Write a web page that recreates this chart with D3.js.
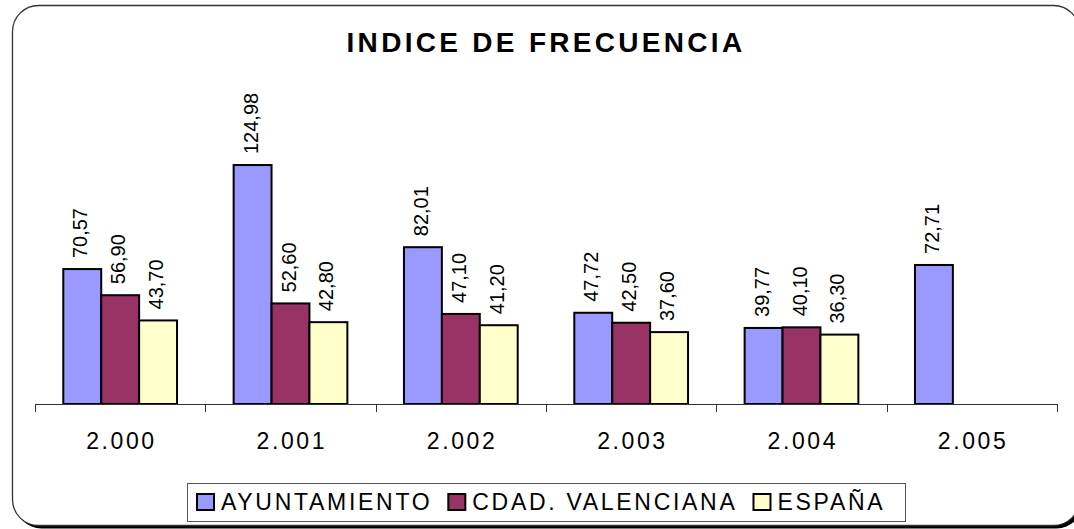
<!DOCTYPE html>
<html>
<head>
<meta charset="utf-8">
<script src="https://cdn.jsdelivr.net/npm/d3@7"></script>
<style>
  html, body { margin: 0; padding: 0; background: #fff; }
  svg { display: block; font-family: "Liberation Sans", Arial, sans-serif; }
</style>
</head>
<body>
<svg id="chart" width="1074" height="529"></svg>
<script>
// Data
var years = ["2.000", "2.001", "2.002", "2.003", "2.004", "2.005"];
var seriesNames = ["AYUNTAMIENTO", "CDAD. VALENCIANA", "ESPAÑA"];
var ayuntamiento = [70.57, 124.98, 82.01, 47.72, 39.77, 72.71];
var cdadValenciana = [56.90, 52.60, 47.10, 42.50, 40.10, null];
var espana = [43.70, 42.80, 41.20, 37.60, 36.30, null];
var seriesColors = ["#9999ff", "#993366", "#ffffcc"];

var svg = d3.select("#chart");
var width = +svg.attr("width"),
    height = +svg.attr("height");

// Spanish number format: comma as decimal mark
var esLocale = d3.formatLocale({ decimal: ",", thousands: ".", grouping: [3], currency: ["", " €"] });
var numFormat = esLocale.format(".2f");

// ---- chart frame (rounded, with a dark shadow) ----
svg.append("rect")
    .attr("x", 15.5).attr("y", 8.5)
    .attr("width", 1067).attr("height", 520)
    .attr("rx", 26).attr("ry", 26)
    .attr("fill", "#000");
svg.append("rect")
    .attr("x", 12.5).attr("y", 5.5)
    .attr("width", 1067).attr("height", 520)
    .attr("rx", 26).attr("ry", 26)
    .attr("fill", "#fff")
    .attr("stroke", "#333")
    .attr("stroke-width", 1.3);

// Title
svg.append("text")
    .attr("x", 546)
    .attr("y", 52)
    .attr("text-anchor", "middle")
    .style("font-size", "28px")
    .style("font-weight", "bold")
    .style("letter-spacing", "3.3px")
    .text("INDICE DE FRECUENCIA");

// ---- scales ----
var baseline = 404;
var x0 = d3.scaleBand().domain(years).range([35, 1057]).padding(0);
var x1 = d3.scaleBand().domain(seriesNames).range([28.3, x0.bandwidth() - 28.3]).padding(0);
var y = d3.scaleLinear().domain([0, 140]).range([baseline, baseline - 140 * 1.912]);

// Build a row per year from the series arrays
var table = years.map(function(yr, i) {
    return {
        year: yr,
        values: [ayuntamiento[i], cdadValenciana[i], espana[i]].map(function(v, j) {
            return { name: seriesNames[j], value: v, color: seriesColors[j] };
        }).filter(function(d) { return d.value != null; })
    };
});

var groups = svg.append("g")
    .selectAll("g")
    .data(table)
    .enter()
    .append("g")
    .attr("transform", function(d) { return "translate(" + x0(d.year) + ",0)"; });

groups.selectAll("rect")
    .data(function(d) { return d.values; })
    .enter()
    .append("rect")
    .attr("x", function(d) { return x1(d.name); })
    .attr("y", function(d) { return y(d.value); })
    .attr("width", x1.bandwidth())
    .attr("height", function(d) { return baseline - y(d.value); })
    .attr("fill", function(d) { return d.color; })
    .attr("stroke", "#000")
    .attr("stroke-width", 2);

// Value labels, rotated
groups.selectAll("text")
    .data(function(d) { return d.values; })
    .enter()
    .append("text")
    .attr("transform", function(d) {
        var cx = x1(d.name) + x1.bandwidth() / 2;
        return "translate(" + cx + "," + (y(d.value) - 11) + ") rotate(-90)";
    })
    .attr("dy", "0.25em")
    .style("font-size", "20px")
    .attr("fill", "#000")
    .text(function(d) { return numFormat(d.value); });

// ---- category axis (ticks between categories) ----
var axis = svg.append("g").attr("stroke", "#333").attr("stroke-width", 1);
axis.append("line")
    .attr("x1", x0.range()[0]).attr("x2", x0.range()[1])
    .attr("y1", baseline + 0.5).attr("y2", baseline + 0.5);
var tickPos = years.map(function(d) { return x0(d); }).concat([x0.range()[1]]);
axis.selectAll("line.tick")
    .data(tickPos)
    .enter()
    .append("line")
    .attr("class", "tick")
    .attr("x1", function(d) { return Math.round(d) + 0.5; })
    .attr("x2", function(d) { return Math.round(d) + 0.5; })
    .attr("y1", baseline)
    .attr("y2", baseline + 8);

svg.append("g")
    .selectAll("text")
    .data(years)
    .enter()
    .append("text")
    .attr("x", function(d) { return x0(d) + x0.bandwidth() / 2 + 1.3; })
    .attr("y", 448.5)
    .attr("text-anchor", "middle")
    .style("font-size", "23px")
    .style("letter-spacing", "2.6px")
    .text(function(d) { return d; });

// ---- legend ----
var legend = svg.append("g");
legend.append("rect")
    .attr("x", 187.5).attr("y", 483.5)
    .attr("width", 718).attr("height", 38)
    .attr("fill", "#fff")
    .attr("stroke", "#555")
    .attr("stroke-width", 1);

var lx = 197;
seriesNames.forEach(function(name, i) {
    legend.append("rect")
        .attr("x", lx).attr("y", 494)
        .attr("width", 17).attr("height", 16)
        .attr("fill", seriesColors[i])
        .attr("stroke", "#000")
        .attr("stroke-width", 2);
    var t = legend.append("text")
        .attr("x", lx + 24)
        .attr("y", 510)
        .style("font-size", "23px")
        .style("letter-spacing", "2.7px")
        .text(name);
    lx = lx + 24 + t.node().getComputedTextLength() + 16;
});
</script>
</body>
</html>
